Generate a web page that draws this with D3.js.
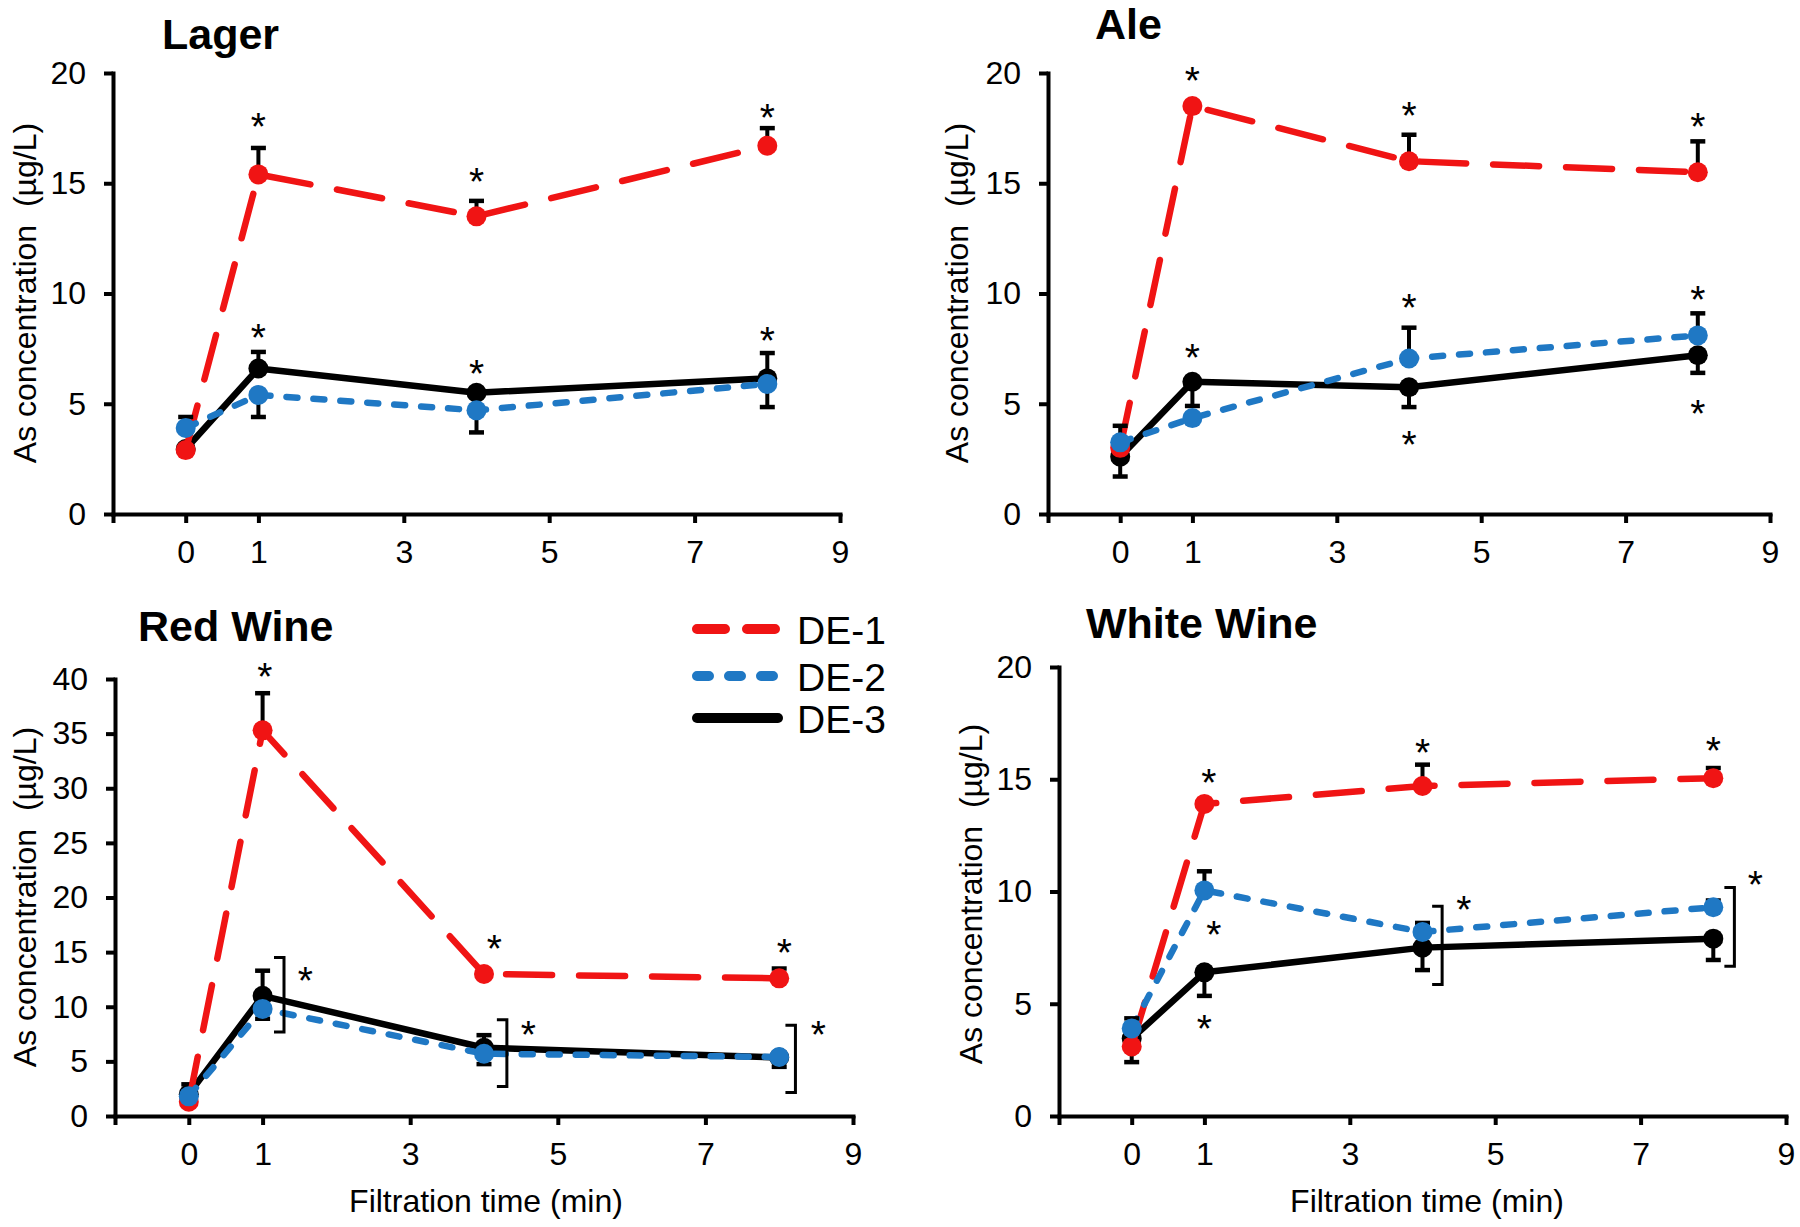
<!DOCTYPE html>
<html><head><meta charset="utf-8">
<script src="https://cdn.jsdelivr.net/npm/d3@7"></script>
<style>
body{margin:0;background:#fff}
svg text{font-family:"Liberation Sans",Arial,Helvetica,sans-serif;fill:#000}
</style>
</head><body>
<svg id="chart" width="1800" height="1227"></svg>
<script>
// ---------------- DATA ----------------
const times = [0, 1, 4, 8];
const seriesNames = ["DE-1", "DE-2", "DE-3"];
const panelTitles = ["Lager", "Ale", "Red Wine", "White Wine"];
const yMaxes = [20, 20, 40, 20];
const yTickValuesLager = [0, 5, 10, 15, 20];
const yTickValuesRed = [0, 5, 10, 15, 20, 25, 30, 35, 40];
const xTickValues = [-1, 0, 1, 3, 5, 7, 9];
const xTickLabels = ["", "0", "1", "3", "5", "7", "9"];
const yAxisTitle = "As concentration  (\u00B5g/L)";
const xAxisTitle = "Filtration time (min)";

// means (µg/L)
const lagerDE1 = [2.9, 15.4, 13.5, 16.7];
const lagerDE2 = [3.9, 5.4, 4.7, 5.9];
const lagerDE3 = [2.95, 6.6, 5.5, 6.15];
const aleDE1 = [3.0, 18.5, 16.0, 15.5];
const aleDE2 = [3.25, 4.35, 7.05, 8.1];
const aleDE3 = [2.6, 6.0, 5.75, 7.2];
const redDE1 = [1.3, 35.3, 13.0, 12.6];
const redDE2 = [1.8, 9.8, 5.7, 5.4];
const redDE3 = [2.0, 11.0, 6.25, 5.35];
const whiteDE1 = [3.1, 13.9, 14.7, 15.05];
const whiteDE2 = [3.9, 10.05, 8.2, 9.3];
const whiteDE3 = [3.45, 6.4, 7.5, 7.9];

// error bars (signed: + drawn upward, - drawn downward, 0 = hidden)
const lagerErr1 = [0, 1.2, 0.7, 0.8];
const lagerErr2 = [0.5, -1.0, -1.0, -1.05];
const lagerErr3 = [0, 0.75, 0, 1.15];
const aleErr1 = [0, 0, 1.2, 1.4];
const aleErr2 = [0.75, 0, 1.4, 1.0];
const aleErr3 = [-0.9, -1.1, -0.9, -0.8];
const redErr1 = [0, 3.4, 0, 0.9];
const redErr2 = [0, -0.9, -0.95, -0.9];
const redErr3 = [0.9, 2.3, 1.15, 0];
const whiteErr1 = [0, 0, 0.95, 0.45];
const whiteErr2 = [0.45, 0.85, 0.4, 0.3];
const whiteErr3 = [-1.05, -1.05, -1.0, -0.95];

// significance stars [x, y] in data units
const lagerStars = [[1, 18.0], [4, 15.5], [8, 18.4], [1, 8.45], [4, 6.8], [8, 8.3]];
const aleStars = [[1, 20.1], [4, 18.5], [8, 18.0], [1, 7.55], [4, 9.8], [8, 10.15], [4, 3.6], [8, 5.0]];
const redStars = [[1.03, 41.1], [4.14, 16.2], [8.07, 15.8], [1.58, 13.3], [4.6, 8.3], [8.53, 8.3]];
const whiteStars = [[1.06, 15.3], [4, 16.6], [8, 16.7], [1.13, 8.5], [1, 4.3], [4.57, 9.63], [8.58, 10.75]];

// brackets [x, yTop, yBottom] in data units
const lagerBrackets = [];
const aleBrackets = [];
const redBrackets = [[1.29, 14.5, 7.7], [4.31, 8.8, 2.7], [8.22, 8.3, 2.15]];
const whiteBrackets = [[4.27, 9.34, 5.86], [8.29, 10.18, 6.67]];

// ---------------- STYLE / LAYOUT ----------------
const colors = ["#f01414", "#1f78c4", "#000000"];
const dashes = ["46,27", "11,16", null];
const legendDashes = ["28,22", "12,20", null];
const drawOrder = [2, 0, 1];

const layouts = [
  {x0: 113, x1: 840, yTop: 73, yBot: 514, tx: 162, ty: 49, ytx: 36, yty: 293, xtitle: false},
  {x0: 1048, x1: 1770, yTop: 73, yBot: 514, tx: 1095, ty: 39, ytx: 968, yty: 293, xtitle: false},
  {x0: 115, x1: 853, yTop: 679, yBot: 1116, tx: 138, ty: 641, ytx: 36, yty: 897, xtitle: true, xtx: 486, xty: 1212},
  {x0: 1059, x1: 1786, yTop: 667, yBot: 1116, tx: 1086, ty: 638, ytx: 982, yty: 894, xtitle: true, xtx: 1427, xty: 1212}
];

const panelData = [
  {means: [lagerDE1, lagerDE2, lagerDE3], errs: [lagerErr1, lagerErr2, lagerErr3], stars: lagerStars, brackets: lagerBrackets, yTicks: yTickValuesLager},
  {means: [aleDE1, aleDE2, aleDE3], errs: [aleErr1, aleErr2, aleErr3], stars: aleStars, brackets: aleBrackets, yTicks: yTickValuesLager},
  {means: [redDE1, redDE2, redDE3], errs: [redErr1, redErr2, redErr3], stars: redStars, brackets: redBrackets, yTicks: yTickValuesRed},
  {means: [whiteDE1, whiteDE2, whiteDE3], errs: [whiteErr1, whiteErr2, whiteErr3], stars: whiteStars, brackets: whiteBrackets, yTicks: yTickValuesLager}
];

const svg = d3.select("#chart");

panelData.forEach((pd, pi) => {
  const L = layouts[pi];
  const x = d3.scaleLinear().domain([-1, 9]).range([L.x0, L.x1]);
  const y = d3.scaleLinear().domain([0, yMaxes[pi]]).range([L.yBot, L.yTop]);
  const g = svg.append("g");

  // axes
  const yAxis = d3.axisLeft(y).tickValues(pd.yTicks).tickSize(9).tickSizeOuter(0).tickPadding(18);
  const gy = g.append("g").attr("transform", `translate(${L.x0},0)`).call(yAxis);
  const xAxis = d3.axisBottom(x).tickValues(xTickValues).tickSize(9).tickSizeOuter(0).tickPadding(17)
    .tickFormat((d, i) => xTickLabels[i]);
  const gx = g.append("g").attr("transform", `translate(0,${L.yBot})`).call(xAxis);
  [gx, gy].forEach(a => {
    a.select(".domain").attr("stroke", "#000").attr("stroke-width", 4).attr("stroke-linecap", "square");
    a.selectAll(".tick line").attr("stroke", "#000").attr("stroke-width", 4);
    a.selectAll(".tick text").attr("font-size", 32).attr("font-family", null);
  });

  // title
  g.append("text").attr("x", L.tx).attr("y", L.ty).attr("font-size", 43).attr("font-weight", "bold")
    .text(panelTitles[pi]);
  // y title
  g.append("text").attr("transform", `translate(${L.ytx},${L.yty}) rotate(-90)`)
    .attr("text-anchor", "middle").attr("font-size", 32).style("white-space", "pre").text(yAxisTitle);
  if (L.xtitle) {
    g.append("text").attr("x", L.xtx).attr("y", L.xty).attr("text-anchor", "middle")
      .attr("font-size", 32).text(xAxisTitle);
  }

  // series
  const line = d3.line().x((d, i) => x(times[i])).y(d => y(d));
  drawOrder.forEach(si => {
    const vals = pd.means[si];
    g.append("path").datum(vals).attr("d", line).attr("fill", "none")
      .attr("stroke", colors[si]).attr("stroke-width", 6.5)
      .attr("stroke-linecap", "round").attr("stroke-linejoin", "round")
      .attr("stroke-dasharray", dashes[si]);
    const eg = g.append("g");
    pd.errs[si].forEach((e, i) => {
      if (!e) return;
      const cx = x(times[i]), y1 = y(vals[i]), y2 = y(vals[i] + e);
      eg.append("line").attr("x1", cx).attr("x2", cx).attr("y1", y1).attr("y2", y2)
        .attr("stroke", "#000").attr("stroke-width", 4);
      eg.append("line").attr("x1", cx - 7.5).attr("x2", cx + 7.5).attr("y1", y2).attr("y2", y2)
        .attr("stroke", "#000").attr("stroke-width", 4.5);
    });
    g.append("g").selectAll("circle").data(vals).join("circle")
      .attr("cx", (d, i) => x(times[i])).attr("cy", d => y(d)).attr("r", 10)
      .attr("fill", colors[si]);
  });

  // brackets
  pd.brackets.forEach(b => {
    const bx = x(b[0]);
    g.append("path").attr("d", `M${bx - 10},${y(b[1])}H${bx}V${y(b[2])}H${bx - 10}`)
      .attr("fill", "none").attr("stroke", "#000").attr("stroke-width", 3);
  });
  // stars
  g.append("g").selectAll("text").data(pd.stars).join("text")
    .attr("x", d => x(d[0])).attr("y", d => y(d[1]) + 23)
    .attr("text-anchor", "middle").attr("font-size", 39).text("*");
});

// legend
const lg = svg.append("g");
const legendRows = [629, 676, 718];
seriesNames.forEach((name, i) => {
  lg.append("line").attr("x1", 697).attr("x2", i === 2 ? 778 : 777)
    .attr("y1", legendRows[i]).attr("y2", legendRows[i])
    .attr("stroke", colors[i]).attr("stroke-width", 10).attr("stroke-linecap", "round")
    .attr("stroke-dasharray", legendDashes[i]);
  lg.append("text").attr("x", 797).attr("y", legendRows[i] + 15).attr("font-size", 39).text(name);
});
</script>
</body></html>
